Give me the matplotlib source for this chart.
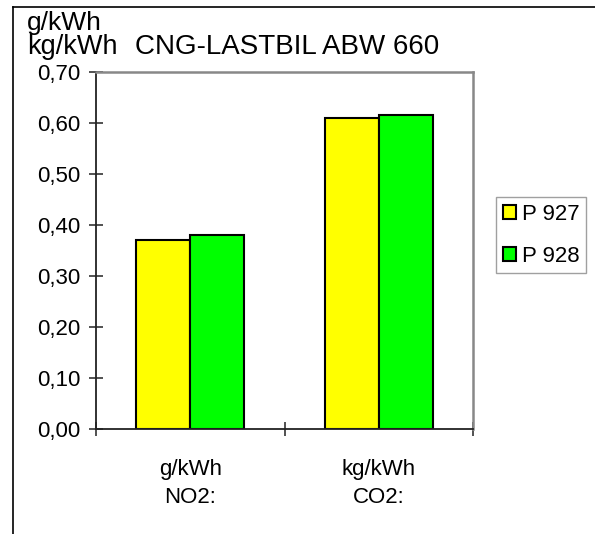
import numpy as np
import matplotlib.pyplot as plt
from matplotlib.lines import Line2D
from matplotlib.transforms import blended_transform_factory

plt.rcParams['font.family'] = ['Liberation Sans', 'DejaVu Sans']

units = ["g/kWh", "kg/kWh"]
gases = ["NO2:", "CO2:"]
series_names = ["P 927", "P 928"]
p927 = [0.37, 0.61]
p928 = [0.38, 0.615]
colors = ["#ffff00", "#00ff00"]

W, H = 595, 534
fig = plt.figure(figsize=(W / 100, H / 100), dpi=100)
ax = fig.add_axes([96 / W, 1 - 429 / H, 377 / W, 357 / H])

x = np.arange(len(units))
bw = 0.287
ax.bar(x - bw / 2, p927, bw, color=colors[0], edgecolor="black", linewidth=1.5, label=series_names[0])
ax.bar(x + bw / 2, p928, bw, color=colors[1], edgecolor="black", linewidth=1.5, label=series_names[1])

ax.set_xlim(-0.5, 1.5)
ax.set_ylim(0, 0.70)
yt = np.linspace(0, 0.7, 8)
ax.set_yticks(yt)
ax.set_yticklabels([("%.2f" % v).replace(".", ",") for v in yt], fontsize=16)
ax.set_xticks([-0.5, 0.5, 1.5])
ax.set_xticklabels([])
ax.tick_params(direction="inout", length=10, width=1.2, color="#333333", pad=6)

for s in ["top", "right"]:
    ax.spines[s].set_color("#888888")
    ax.spines[s].set_linewidth(1.8)
for s in ["left", "bottom"]:
    ax.spines[s].set_color("#222222")
    ax.spines[s].set_linewidth(1.3)

# category labels under the axis (two lines each)
tr = blended_transform_factory(ax.transData, fig.transFigure)
for i in range(len(units)):
    ax.text(i, 1 - 475 / H, units[i], ha="center", va="baseline", fontsize=16, transform=tr)
    ax.text(i, 1 - 503 / H, gases[i], ha="center", va="baseline", fontsize=16, transform=tr)

fig.text(27 / W, 1 - 30 / H, "g/kWh", fontsize=19, ha="left", va="baseline")
fig.text(27 / W, 1 - 54 / H, "kg/kWh", fontsize=19.5, ha="left", va="baseline")
fig.text(135 / W, 1 - 54 / H, "CNG-LASTBIL ABW 660", fontsize=20, ha="left", va="baseline")

leg = ax.legend(loc="upper left", bbox_to_anchor=(496 / W, 1 - 197 / H), bbox_transform=fig.transFigure,
                fontsize=16, frameon=True, fancybox=False, handlelength=0.6, handleheight=0.6,
                handletextpad=0.25, labelspacing=0.95, borderpad=0.3, borderaxespad=0)
leg.get_frame().set_edgecolor("#888888")
leg.get_frame().set_linewidth(1)

# outer border (left and top)
fig.add_artist(Line2D([12.5 / W, 12.5 / W], [0, 1 - 7 / H], color="black", linewidth=1.2))
fig.add_artist(Line2D([12.5 / W, 1], [1 - 7 / H, 1 - 7 / H], color="black", linewidth=1.2))

fig.savefig("out.png", dpi=100)
